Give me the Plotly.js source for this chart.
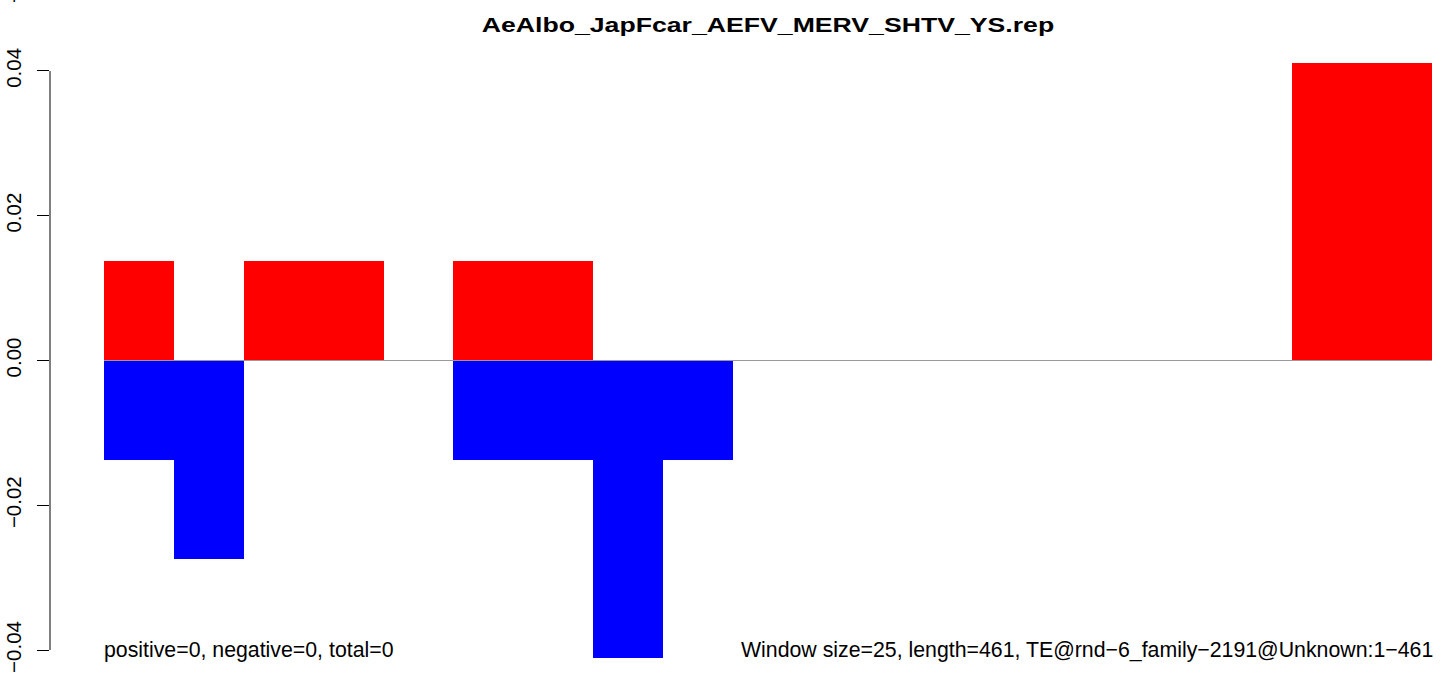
<!DOCTYPE html>
<html>
<head>
<meta charset="utf-8">
<script src="https://cdn.plot.ly/plotly-3.0.1.min.js"></script>
<style>
  html, body { margin: 0; padding: 0; background: #fff; }
  #chart { width: 1449px; height: 677px; }
  .gtitle { transform-box: fill-box; transform-origin: center; transform: scaleX(1.3); }
</style>
</head>
<body>
<div id="chart"></div>
<script>
// Windows of 25 bp along a 461 bp TE (19 windows)
const windowIndex = [0,1,2,3,4,5,6,7,8,9,10,11,12,13,14,15,16,17,18];
const positiveValues = [0.0137,0,0.0137,0.0137,0,0.0137,0.0137,0,0,0,0,0,0,0,0,0,0,0.0411,0.0411];
const negativeValues = [-0.0137,-0.0274,0,0,0,-0.0137,-0.0137,-0.0411,-0.0137,0,0,0,0,0,0,0,0,0,0];
const yTicks = [-0.04,-0.02,0,0.02,0.04];
const titleText = "AeAlbo_JapFcar_AEFV_MERV_SHTV_YS.rep";
const leftNote = "positive=0, negative=0, total=0";
const rightNote = "Window size=25, length=461, TE@rnd\u22126_family\u22122191@Unknown:1\u2212461";

const font = "Liberation Sans, Arial, Helvetica, sans-serif";
const first = windowIndex[0] - 0.5;
const last = windowIndex[windowIndex.length - 1] + 0.5;

const traces = [
  {type: "bar", x: windowIndex, y: positiveValues, width: 1,
   marker: {color: "#FF0000", line: {width: 0}}, hoverinfo: "x+y"},
  {type: "bar", x: windowIndex, y: negativeValues, width: 1,
   marker: {color: "#0000FF", line: {width: 0}}, hoverinfo: "x+y"}
];

const layout = {
  width: 1449, height: 677,
  margin: {l: 50, r: 0, t: 28, b: 2, pad: 0},
  paper_bgcolor: "#fff", plot_bgcolor: "#fff",
  showlegend: false,
  barmode: "overlay", bargap: 0,
  font: {family: font, color: "#000"},
  title: {text: "<b>" + titleText + "</b>", font: {family: font, size: 20.5, color: "#000"},
          xref: "paper", x: 0.5132, xanchor: "center",
          yref: "container", y: 1 - 25/677, yanchor: "middle"},
  xaxis: {range: [-1.2726, 18.743], visible: false, fixedrange: true},
  yaxis: {range: [-0.04345, 0.04594], tickvals: yTicks, tickformat: ".2f",
          ticks: "outside", ticklen: 12, tickwidth: 1, tickcolor: "#000",
          tickangle: -90, ticklabelstandoff: 8,
          tickfont: {family: font, size: 20.5, color: "#000"},
          showgrid: false, zeroline: false, showline: false, fixedrange: true},
  shapes: [
    {type: "line", xref: "paper", yref: "y", x0: 0, x1: 0, y0: yTicks[0], y1: yTicks[yTicks.length-1],
     line: {color: "#000", width: 1}},
    {type: "line", xref: "x", yref: "y", x0: first, x1: last, y0: 0, y1: 0,
     line: {color: "#999999", width: 1}, layer: "above"}
  ],
  annotations: [
    {text: leftNote, xref: "x", yref: "y", x: first, y: yTicks[0], xanchor: "left", yanchor: "middle",
     xshift: -2, showarrow: false, font: {family: font, size: 21.3, color: "#000"}},
    {text: rightNote, xref: "x", yref: "y", x: last, y: yTicks[0], xanchor: "right", yanchor: "middle",
     xshift: 3, showarrow: false, font: {family: font, size: 21.3, color: "#000"}},
    {text: "\u22120.04", xref: "paper", yref: "paper", x: -0.0265, y: 1.0355, xanchor: "center", yanchor: "bottom",
     textangle: -90, showarrow: false, font: {family: font, size: 20.5, color: "#000"}}
  ]
};

Plotly.newPlot("chart", traces, layout, {displayModeBar: false, staticPlot: true});
</script>
</body>
</html>
